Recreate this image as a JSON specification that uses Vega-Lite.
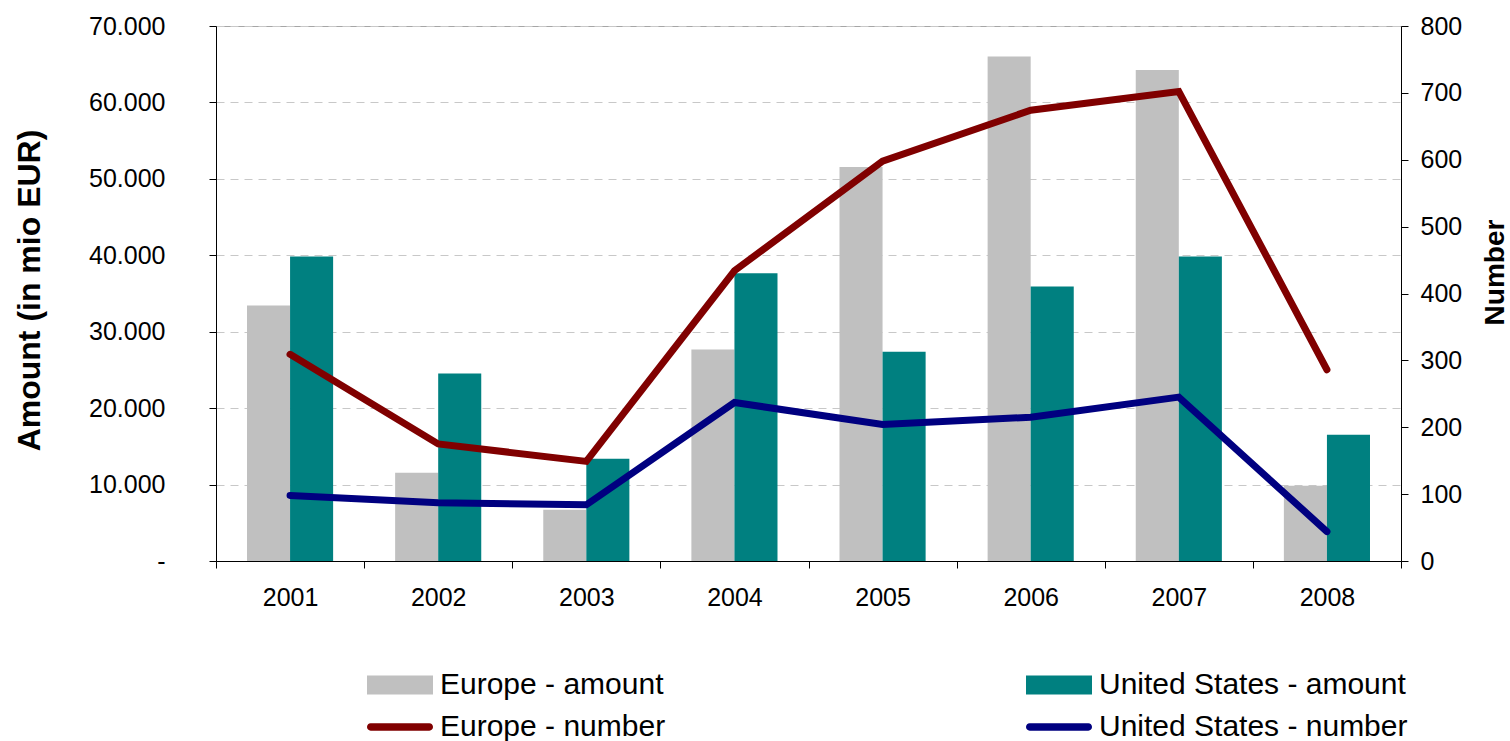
{
  "$schema": "https://vega.github.io/schema/vega-lite/v6.json",
  "width": 1185,
  "height": 535,
  "autosize": {"type": "none"},
  "padding": {"left": 216, "top": 26, "right": 109, "bottom": 180},
  "background": "white",
  "config": {
    "font": "Liberation Sans",
    "view": {"stroke": "#a6a6a6", "strokeWidth": 1}
  },
  "datasets": {
    "amounts": [
      {"year": "2001", "series": "Europe - amount", "amount": 33430},
      {"year": "2001", "series": "United States - amount", "amount": 39840},
      {"year": "2002", "series": "Europe - amount", "amount": 11560},
      {"year": "2002", "series": "United States - amount", "amount": 24530},
      {"year": "2003", "series": "Europe - amount", "amount": 6690},
      {"year": "2003", "series": "United States - amount", "amount": 13390},
      {"year": "2004", "series": "Europe - amount", "amount": 27670},
      {"year": "2004", "series": "United States - amount", "amount": 37640},
      {"year": "2005", "series": "Europe - amount", "amount": 51550},
      {"year": "2005", "series": "United States - amount", "amount": 27390},
      {"year": "2006", "series": "Europe - amount", "amount": 66010},
      {"year": "2006", "series": "United States - amount", "amount": 35910},
      {"year": "2007", "series": "Europe - amount", "amount": 64230},
      {"year": "2007", "series": "United States - amount", "amount": 39840},
      {"year": "2008", "series": "Europe - amount", "amount": 9830},
      {"year": "2008", "series": "United States - amount", "amount": 16530}
    ],
    "numbers": [
      {"year": "2001", "series": "Europe - number", "number": 309},
      {"year": "2002", "series": "Europe - number", "number": 175},
      {"year": "2003", "series": "Europe - number", "number": 149},
      {"year": "2004", "series": "Europe - number", "number": 434},
      {"year": "2005", "series": "Europe - number", "number": 598},
      {"year": "2006", "series": "Europe - number", "number": 674},
      {"year": "2007", "series": "Europe - number", "number": 702},
      {"year": "2008", "series": "Europe - number", "number": 286},
      {"year": "2001", "series": "United States - number", "number": 98},
      {"year": "2002", "series": "United States - number", "number": 87},
      {"year": "2003", "series": "United States - number", "number": 84},
      {"year": "2004", "series": "United States - number", "number": 237},
      {"year": "2005", "series": "United States - number", "number": 204},
      {"year": "2006", "series": "United States - number", "number": 215},
      {"year": "2007", "series": "United States - number", "number": 245},
      {"year": "2008", "series": "United States - number", "number": 44}
    ]
  },
  "layer": [
    {
      "data": {"name": "amounts"},
      "mark": {"type": "bar"},
      "encoding": {
        "x": {
          "field": "year",
          "type": "ordinal",
          "scale": {"paddingInner": 0, "paddingOuter": 0},
          "axis": {
            "title": null,
            "labelAngle": 0,
            "labelFont": "Liberation Sans",
            "labelFontSize": 25,
            "labelColor": "#000000",
            "labelPadding": 17,
            "tickBand": "extent",
            "tickSize": 7,
            "tickColor": "#000000",
            "domainColor": "#000000",
            "grid": false
          }
        },
        "xOffset": {
          "field": "series",
          "type": "nominal",
          "scale": {"domain": ["Europe - amount", "United States - amount"], "paddingInner": 0, "paddingOuter": 0.72}
        },
        "y": {
          "field": "amount",
          "type": "quantitative",
          "scale": {"domain": [0, 70000], "nice": false},
          "axis": {
            "title": "Amount (in mio EUR)",
            "titleFont": "Liberation Sans",
            "titleFontSize": 32,
            "titleFontWeight": "bold",
            "titleColor": "#000000",
            "titleAngle": 270,
            "titleX": -187,
            "titleY": 264,
            "titleAlign": "center",
            "titleBaseline": "middle",
            "values": [0, 10000, 20000, 30000, 40000, 50000, 60000, 70000],
            "labelExpr": "datum.value == 0 ? '-' : replace(format(datum.value, ','), ',', '.')",
            "labelFont": "Liberation Sans",
            "labelFontSize": 25,
            "labelColor": "#000000",
            "labelPadding": 44,
            "tickSize": 7,
            "tickColor": "#000000",
            "domainColor": "#000000",
            "grid": true,
            "gridDash": [8, 6],
            "gridColor": "#c8c8c8",
            "gridWidth": 1
          }
        },
        "color": {
          "field": "series",
          "type": "nominal",
          "scale": {
            "domain": ["Europe - amount", "Europe - number", "United States - amount", "United States - number"],
            "range": ["#C0C0C0", "#800000", "#008080", "#000080"]
          },
          "legend": {
            "orient": "none",
            "legendX": 151,
            "legendY": 644,
            "columns": 2,
            "title": null,
            "labelFont": "Liberation Sans",
            "labelFontSize": 30,
            "labelColor": "#000000",
            "labelLimit": 0,
            "labelOffset": 7,
            "symbolSize": 4356,
            "symbolType": "M-1,-0.29H1V0.29H-1Z",
            "symbolStrokeWidth": 0,
            "clipHeight": 30,
            "columnPadding": 360,
            "rowPadding": 12,
            "encode": {
              "symbols": {
                "update": {
                  "shape": {"signal": "indexof(datum.value, 'number') >= 0 ? 'M-0.89,-0.11H0.89A0.11,0.11 0 0 1 0.89,0.11H-0.89A0.11,0.11 0 0 1 -0.89,-0.11Z' : 'M-1,-0.29H1V0.29H-1Z'"},
                  "fill": {"scale": "color", "field": "value"},
                  "stroke": {"value": "transparent"}
                }
              }
            }
          }
        }
      }
    },
    {
      "data": {"name": "numbers"},
      "mark": {"type": "line", "strokeWidth": 7, "strokeCap": "round"},
      "encoding": {
        "x": {"field": "year", "type": "ordinal"},
        "y": {
          "field": "number",
          "type": "quantitative",
          "scale": {"domain": [0, 800], "nice": false},
          "axis": {
            "orient": "right",
            "title": "Number",
            "titleFont": "Liberation Sans",
            "titleFontSize": 28,
            "titleFontWeight": "bold",
            "titleColor": "#000000",
            "titleAngle": 270,
            "titleX": 94,
            "titleY": 246,
            "titleAlign": "center",
            "titleBaseline": "middle",
            "values": [0, 100, 200, 300, 400, 500, 600, 700, 800],
            "format": "d",
            "labelFont": "Liberation Sans",
            "labelFontSize": 25,
            "labelColor": "#000000",
            "labelPadding": 12,
            "tickSize": 7,
            "tickColor": "#000000",
            "domainColor": "#000000",
            "grid": false
          }
        },
        "color": {
          "field": "series",
          "type": "nominal",
          "scale": {
            "domain": ["Europe - amount", "Europe - number", "United States - amount", "United States - number"],
            "range": ["#C0C0C0", "#800000", "#008080", "#000080"]
          }
        }
      }
    }
  ],
  "resolve": {"scale": {"y": "independent"}}
}
